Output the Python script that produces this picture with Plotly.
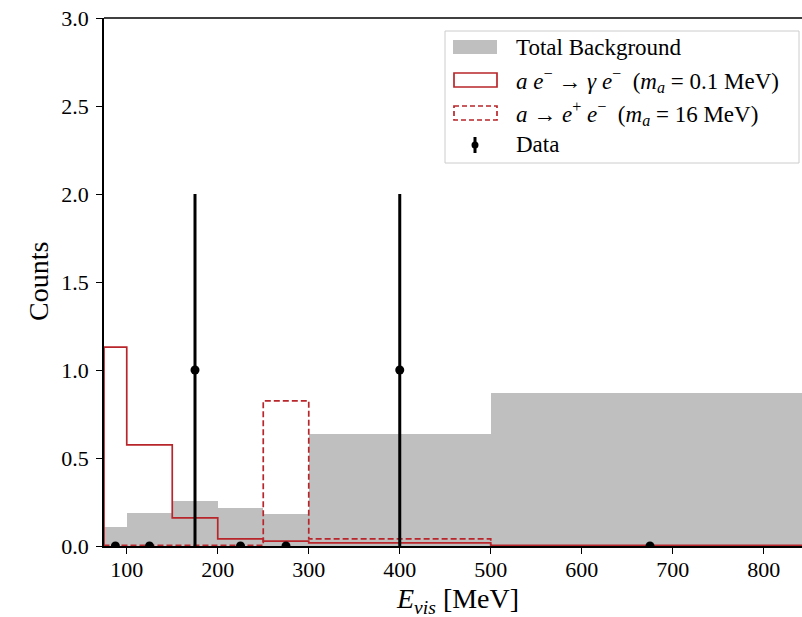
import numpy as np
import plotly.graph_objects as go

# Binning in visible energy [MeV]
bin_edges = [75, 100, 150, 200, 250, 300, 500, 850]

# Expected counts per bin
background = [0.11, 0.19, 0.255, 0.215, 0.18, 0.635, 0.87]
alp_compton = [1.13, 0.575, 0.16, 0.04, 0.028, 0.018, 0.004]   # a e- -> gamma e- (m_a = 0.1 MeV)
alp_decay = [0.003, 0.003, 0.003, 0.003, 0.825, 0.04, 0.001]   # a -> e+ e- (m_a = 16 MeV)

# Observed events
data_counts = [0, 0, 1, 0, 0, 1, 0]

x_ticks = [100, 200, 300, 400, 500, 600, 700, 800]
y_ticks = [0.0, 0.5, 1.0, 1.5, 2.0, 2.5, 3.0]

edges = np.array(bin_edges, dtype=float)
centers = 0.5 * (edges[:-1] + edges[1:])
widths = np.diff(edges)
err = np.sqrt(np.array(data_counts, dtype=float))

RED = "#b8262b"
GRAY = "#bfbfbf"
FONT = "'Liberation Serif', 'Times New Roman', serif"

W, H = 802, 617
ML, MT, MB, MR = 104, 18, 71, 0
PW, PH = W - ML - MR, H - MT - MB


def step_path(vals):
    xs = [edges[0]] + list(edges)
    ys = [0.0] + list(vals) + [0.0]
    return xs, ys


fig = go.Figure()

fig.add_trace(go.Bar(
    x=centers, y=background, width=widths,
    marker=dict(color=GRAY, line=dict(width=0)),
    showlegend=False,
))

xs, ys = step_path(alp_compton)
fig.add_trace(go.Scatter(
    x=xs, y=ys, mode="lines", line=dict(color=RED, width=1.7, shape="hv"),
    showlegend=False,
))

xs, ys = step_path(alp_decay)
fig.add_trace(go.Scatter(
    x=xs, y=ys, mode="lines", line=dict(color=RED, width=1.7, shape="hv", dash="6px,3px"),
    showlegend=False,
))

fig.add_trace(go.Scatter(
    x=centers, y=data_counts, mode="markers",
    marker=dict(color="black", size=9),
    error_y=dict(type="data", array=err, color="black", thickness=3, width=0),
    showlegend=False,
))


def px_x(p):
    return (p - ML) / PW


def px_y(p):
    return (H - MB - p) / PH


shapes = []
annotations = []

# top spine
shapes.append(dict(type="line", xref="paper", yref="paper", x0=0, x1=1.02, y0=1, y1=1,
                   line=dict(color="black", width=1.5)))

# legend frame
shapes.append(dict(type="rect", xref="paper", yref="paper",
                   x0=px_x(445), x1=px_x(799), y0=px_y(31), y1=px_y(163),
                   line=dict(color="#cccccc", width=1), fillcolor="rgba(255,255,255,0.8)"))

legend_rows = [47, 80, 113, 145]
legend_labels = [
    "Total Background",
    "<i>a</i> <i>e</i><sup>−</sup> → <i>γ</i> <i>e</i><sup>−</sup>  (<i>m<sub>a</sub></i> = 0.1 MeV)",
    "<i>a</i> → <i>e</i><sup>+</sup> <i>e</i><sup>−</sup>  (<i>m<sub>a</sub></i> = 16 MeV)",
    "Data",
]

# legend handles
r = legend_rows[0]
shapes.append(dict(type="rect", xref="paper", yref="paper",
                   x0=px_x(453), x1=px_x(497), y0=px_y(r - 7), y1=px_y(r + 7),
                   line=dict(width=0), fillcolor=GRAY))
r = legend_rows[1]
shapes.append(dict(type="rect", xref="paper", yref="paper",
                   x0=px_x(454), x1=px_x(497), y0=px_y(r - 7), y1=px_y(r + 7),
                   line=dict(color=RED, width=1.7), fillcolor="rgba(0,0,0,0)"))
r = legend_rows[2]
shapes.append(dict(type="rect", xref="paper", yref="paper",
                   x0=px_x(454), x1=px_x(497), y0=px_y(r - 7), y1=px_y(r + 7),
                   line=dict(color=RED, width=1.7, dash="5px,3px"), fillcolor="rgba(0,0,0,0)"))
r = legend_rows[3]
shapes.append(dict(type="line", xref="paper", yref="paper",
                   x0=px_x(475), x1=px_x(475), y0=px_y(r - 8), y1=px_y(r + 8),
                   line=dict(color="black", width=3)))
shapes.append(dict(type="circle", xref="paper", yref="paper",
                   x0=px_x(471.5), x1=px_x(478.5), y0=px_y(r - 3.5), y1=px_y(r + 3.5),
                   line=dict(width=0), fillcolor="black"))

for r, lab in zip(legend_rows, legend_labels):
    annotations.append(dict(xref="paper", yref="paper", x=px_x(514), y=px_y(r),
                            text=lab, showarrow=False, xanchor="left", yanchor="middle",
                            font=dict(family=FONT, size=23, color="black")))

# axis titles
annotations.append(dict(xref="paper", yref="paper", x=px_x(457), y=px_y(600),
                        text="<i>E</i><sub><i>vis</i></sub> [MeV]", showarrow=False,
                        xanchor="center", yanchor="middle",
                        font=dict(family=FONT, size=28, color="black")))
annotations.append(dict(xref="paper", yref="paper", x=px_x(38), y=px_y(282),
                        text="Counts", showarrow=False, textangle=-90,
                        xanchor="center", yanchor="middle",
                        font=dict(family=FONT, size=28, color="black")))

tick_font = dict(family=FONT, size=22, color="black")

fig.update_layout(
    width=W, height=H,
    margin=dict(l=ML, r=MR, t=MT, b=MB, pad=0),
    paper_bgcolor="white", plot_bgcolor="white",
    font=dict(family=FONT, size=22, color="black"),
    bargap=0,
    showlegend=False,
    shapes=shapes,
    annotations=annotations,
    xaxis=dict(
        range=[75, 75 + PW / 0.91], tickvals=x_ticks, ticks="outside", ticklen=6,
        tickwidth=1.2, tickcolor="black", showline=True, linecolor="black", linewidth=1.5,
        showgrid=False, zeroline=False, mirror=False, tickfont=tick_font,
        ticklabelstandoff=-3,
    ),
    yaxis=dict(
        range=[0, 3], tickvals=y_ticks, tickformat=".1f", ticks="outside", ticklen=6,
        tickwidth=1.2, tickcolor="black", showline=True, linecolor="black", linewidth=1.5,
        showgrid=False, zeroline=False, mirror=False, tickfont=tick_font,
        ticklabelstandoff=3,
    ),
)

fig.write_html("out.html")
